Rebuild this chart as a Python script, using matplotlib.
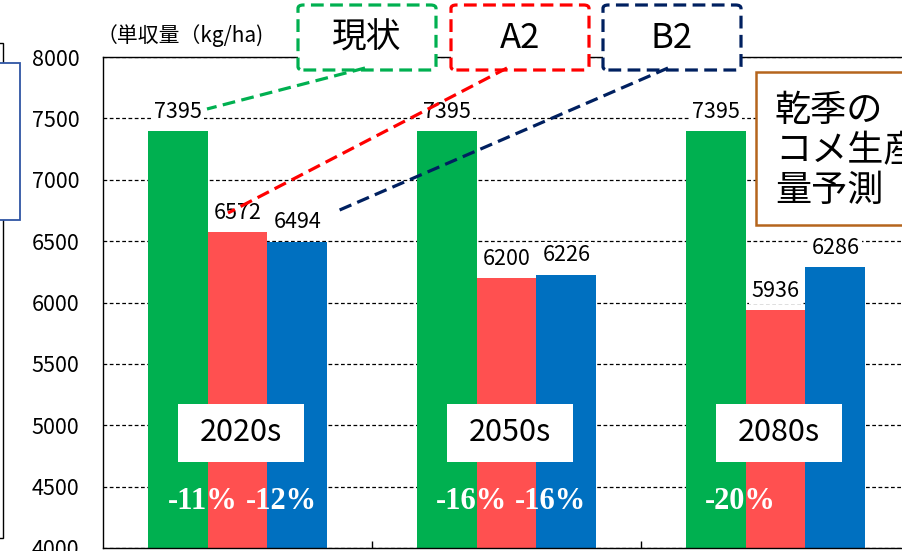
import matplotlib
matplotlib.use('Agg')
import matplotlib.pyplot as plt
from matplotlib.patches import Rectangle, FancyBboxPatch
from matplotlib.lines import Line2D

plt.rcParams['font.family'] = ['Noto Sans CJK JP', 'DejaVu Sans']

# ---- data ----
categories = ['2020s', '2050s', '2080s']
series_names = ['現状', 'A2', 'B2']
current_vals = [7395, 7395, 7395]
a2_vals = [6572, 6200, 5936]
b2_vals = [6494, 6226, 6286]
a2_change = ['-11%', '-16%', '-20%']
b2_change = ['-12%', '-16%', '']
yticks = [4000, 4500, 5000, 5500, 6000, 6500, 7000, 7500, 8000]
ylabel = '（単収量（kg/ha)'
title_box = '乾季の\nコメ生産\n量予測'

bar_colors = ['#00B050', '#FF5050', '#0070C0']
line_colors = ['#00B050', '#FF0000', '#002060']

W, H = 903, 551
fig = plt.figure(figsize=(W / 100, H / 100), dpi=100)


def fx(px):
    return px / W


def fy(py):
    return 1 - py / H


ax = fig.add_axes([fx(103), fy(548), 807 / W, 491 / H])
ax.set_xlim(-0.5, 2.5)
ax.set_ylim(4000, 8000)
ax.set_axisbelow(True)

bw = 0.223
offsets = [-bw, 0, bw]
series = [current_vals, a2_vals, b2_vals]
xs = list(range(len(categories)))
for vals, off, col in zip(series, offsets, bar_colors):
    ax.bar([x + off for x in xs], vals, width=bw, color=col, zorder=2)
    for x, v in zip(xs, vals):
        ax.annotate(str(v), (x + off, v), xytext=(0, 14), textcoords='offset points',
                    ha='center', va='center', fontsize=15.5,
                    bbox=dict(fc='white', ec='none', pad=1.5), zorder=3)

# grid & axes styling
ax.set_yticks(yticks)
ax.set_yticklabels([str(t) for t in yticks], fontsize=15.5)
ax.yaxis.grid(True, color='black', lw=0.9, ls=(0, (3, 2)))
ax.tick_params(axis='y', length=0, pad=17)
ax.set_xticks([0.5, 1.5])
ax.set_xticklabels([])
ax.tick_params(axis='x', direction='in', length=5, width=1, color='black')
for s in ['left', 'bottom', 'top']:
    ax.spines[s].set_linewidth(1.0)
    ax.spines[s].set_color('black')
ax.spines['right'].set_visible(False)

# category boxes and percent changes
for x, cat in zip(xs, categories):
    ax.add_patch(Rectangle((x + 0.013 - 0.2325, 4700), 0.465, 473, fc='white', ec='none', zorder=4))
    ax.text(x + 0.013, 4937, cat, ha='center', va='center', fontsize=22, zorder=5)
for x, a, b in zip(xs, a2_change, b2_change):
    if a:
        ax.text(x - 0.13, 4375, a, ha='center', va='center', fontsize=22, color='white',
                family='Liberation Serif', weight='bold', zorder=5)
    if b:
        ax.text(x + 0.165, 4375, b, ha='center', va='center', fontsize=22, color='white',
                family='Liberation Serif', weight='bold', zorder=5)

# y label
fig.text(fx(97), fy(36), ylabel, ha='left', va='center', fontsize=15)

# legend boxes with leader lines
box_x = [298, 451, 603]
leader_start = [(365, 68), (507, 68), (668, 68)]
leader_end = [(207, 109), (228, 213), (335, 212)]
for name, x0, lc, st, en in zip(series_names, box_x, line_colors, leader_start, leader_end):
    fig.add_artist(FancyBboxPatch((fx(x0), fy(70)), 138 / W, 65 / H,
                                  boxstyle='round,pad=0,rounding_size=0.006',
                                  transform=fig.transFigure, fc='white', ec=lc,
                                  lw=2.3, ls=(0, (4, 2)), zorder=5))
    fig.text(fx(x0 + 69), fy(38), name, ha='center', va='center', fontsize=25, zorder=6)
    fig.add_artist(Line2D([fx(st[0]), fx(en[0])], [fy(st[1]), fy(en[1])],
                          transform=fig.transFigure, color=lc, lw=2.3,
                          ls=(0, (4, 2)), zorder=5))

# title box (brown)
fig.add_artist(Rectangle((fx(756), fy(225)), 200 / W, 153 / H, transform=fig.transFigure,
                         fc='white', ec='#B5651D', lw=1.8, zorder=5))
fig.text(fx(775), fy(151), title_box, ha='left', va='center', fontsize=26,
         linespacing=1.14, zorder=6)

# left-edge decorations (cropped boxes)
fig.add_artist(Rectangle((fx(-20), fy(538)), 23 / W, 495 / H, transform=fig.transFigure,
                         fc='none', ec='black', lw=1.0, zorder=5))
fig.add_artist(Rectangle((fx(-20), fy(220)), 40 / W, 157 / H, transform=fig.transFigure,
                         fc='white', ec='#2F55A4', lw=1.3, zorder=6))

fig.savefig('out.png', dpi=100)
